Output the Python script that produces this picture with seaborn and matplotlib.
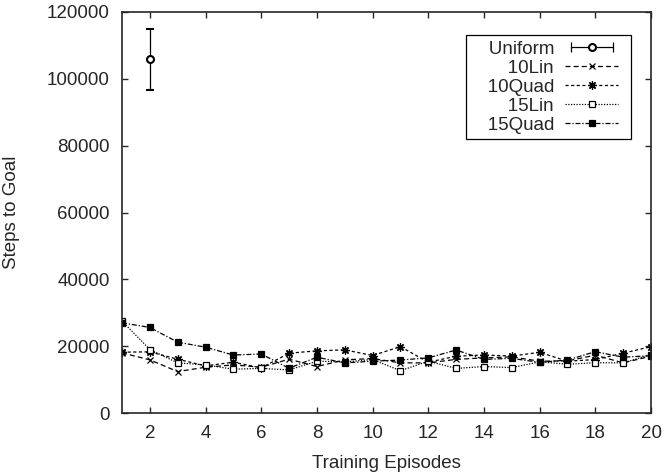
import numpy as np
import pandas as pd
import seaborn as sns
import matplotlib.pyplot as plt
from matplotlib.lines import Line2D
from matplotlib.legend_handler import HandlerLine2D, HandlerTuple

# data
episodes = list(range(1, 21))
uniform_x = [2]
uniform_y = [105800]
uniform_lo = [96600]
uniform_hi = [114900]
lin10 = [18000, 15900, 12400, 13700, 14400, 13700, 16100, 13900, 15900, 16300,
         15000, 15000, 16050, 16500, 16800, 15500, 15600, 17300, 15000, 17000]
quad10 = [18200, 18300, 16100, 14100, 15200, 13500, 17900, 18600, 18900, 17200,
          19850, 15200, 17000, 17350, 17050, 18150, 15500, 16000, 17900, 19850]
lin15 = [27500, 19000, 15000, 14400, 13100, 13350, 12900, 15500, 15300, 16000,
         12650, 15500, 13350, 13900, 13600, 15300, 14600, 15050, 15000, 17500]
quad15 = [27000, 25600, 21200, 19700, 17350, 17650, 13400, 16700, 15000, 15500,
          15850, 16500, 18850, 16050, 16350, 15150, 15850, 18350, 16700, 17150]


# legend sample lines leave a little room on their right, like gnuplot's key
class PaddedLine(HandlerLine2D):
    def create_artists(self, legend, orig_handle, xdescent, ydescent, width,
                       height, fontsize, trans):
        return super().create_artists(legend, orig_handle, xdescent, ydescent,
                                      width - 0.38 * fontsize, height, fontsize, trans)


sns.set_style("ticks")
plt.rcParams['font.family'] = ['Liberation Sans', 'DejaVu Sans']
plt.rcParams['font.size'] = 13.5

fig = plt.figure(figsize=(6.7, 4.72), dpi=100)
ax = fig.add_axes([122 / 670, 59 / 472, 529 / 670, 401 / 472])

styles = {
    '10Lin': dict(vals=lin10, ls=(0, (4, 2.5)), marker='x', mfc='black', ms=5),
    '10Quad': dict(vals=quad10, ls=(0, (2.5, 2)), marker=(8, 2, 0), mfc='black', ms=6),
    '15Lin': dict(vals=lin15, ls=(0, (1, 1.2)), marker='s', mfc='white', ms=5),
    '15Quad': dict(vals=quad15, ls=(0, (4, 1.5, 1, 1.5)), marker='s', mfc='black', ms=5),
}

df = pd.DataFrame({'episode': episodes})
for name, st in styles.items():
    df[name] = st['vals']

handles = []
# Uniform with error bar
yerr = np.array([[uniform_y[0] - uniform_lo[0]], [uniform_hi[0] - uniform_y[0]]])
ax.errorbar(uniform_x, uniform_y, yerr=yerr, fmt='o', color='black', mfc='white',
            mec='black', mew=1.5, ms=5, elinewidth=0.9, capsize=2.6, capthick=0.9)
caps = Line2D([], [], color='black', lw=0.9, marker='|', ms=7, mew=0.9)
dot = Line2D([], [], color='black', lw=0, marker='o', mfc='white', mec='black', mew=1.5, ms=5)
handles.append((caps, dot))

for name, st in styles.items():
    sns.lineplot(data=df, x='episode', y=name, ax=ax, color='black', lw=0.9,
                 linestyle=st['ls'], marker=st['marker'], mfc=st['mfc'],
                 mec='black', mew=0.9, ms=st['ms'], errorbar=None)
    handles.append(Line2D([], [], color='black', lw=0.9, linestyle=st['ls'],
                          marker=st['marker'], mfc=st['mfc'], mec='black',
                          mew=0.9, ms=st['ms']))

labels = ['   ' + s for s in ['Uniform'] + list(styles.keys())]
leg = ax.legend(handles, labels, loc='upper right', bbox_to_anchor=(0.962, 0.943),
                borderaxespad=0, markerfirst=False, fancybox=False, framealpha=1,
                edgecolor='black', handlelength=3.2, handletextpad=0.6,
                labelspacing=0.1, borderpad=0.3,
                handler_map={tuple: HandlerTuple(ndivide=1),
                             Line2D: PaddedLine(),
                             caps: PaddedLine(numpoints=2)})
leg.get_frame().set_linewidth(0.9)

ax.set_xlim(1, 20)
ax.set_ylim(0, 120000)
ax.set_xticks(range(2, 21, 2))
ax.set_yticks(range(0, 120001, 20000))
ax.set_xlabel('Training Episodes', labelpad=9)
ax.set_ylabel('Steps to Goal', labelpad=19)
ax.tick_params(direction='in', length=4, width=1, top=True, right=True, pad=9)
for sp in ax.spines.values():
    sp.set_visible(True)
    sp.set_linewidth(1.2)

plt.savefig('out.png', dpi=100)
